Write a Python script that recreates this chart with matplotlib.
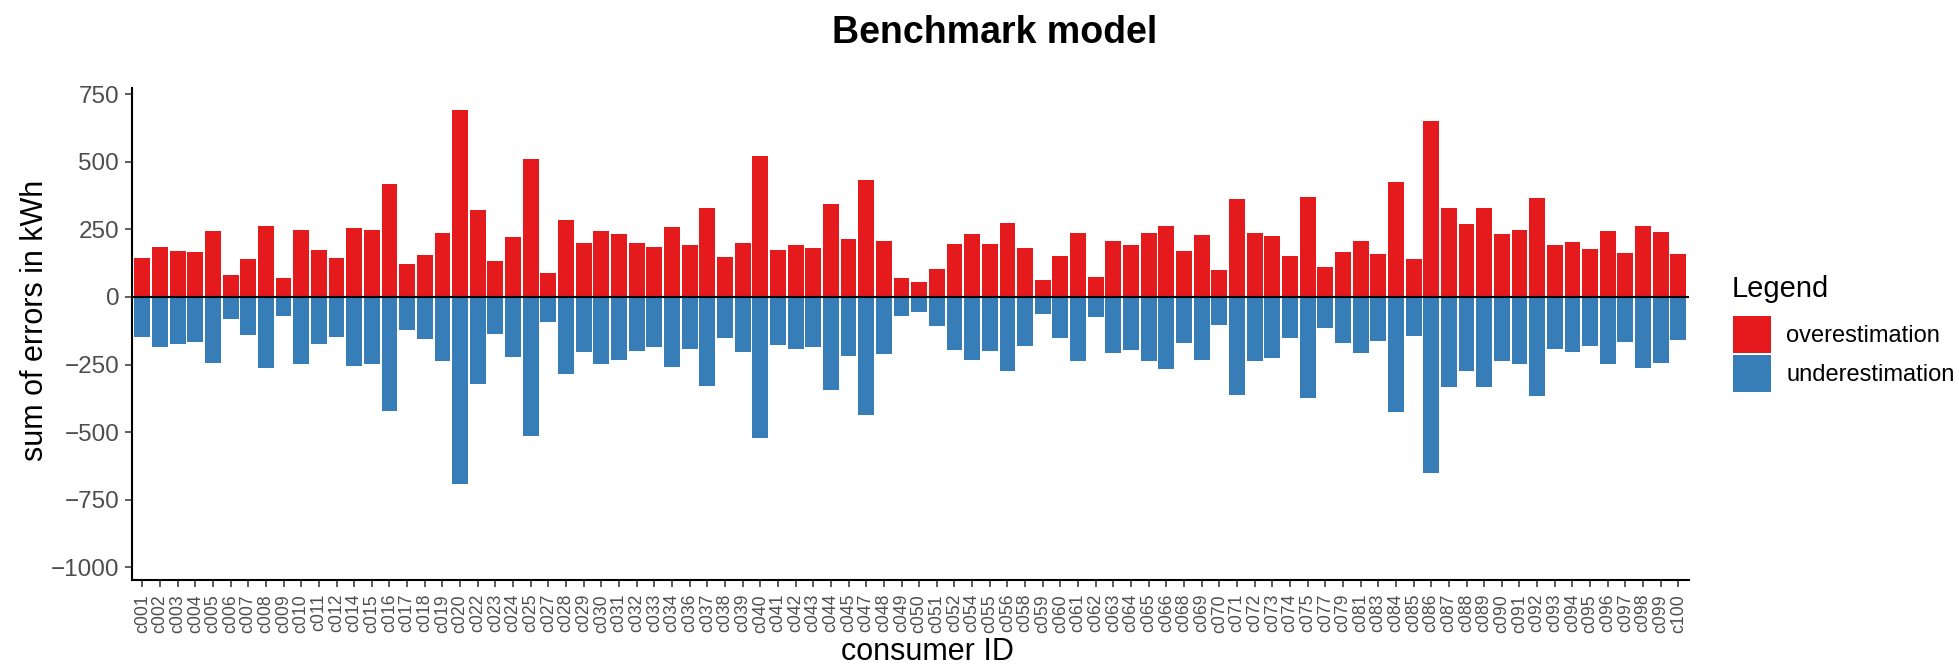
import matplotlib
matplotlib.use("Agg")
import matplotlib.pyplot as plt
from matplotlib.patches import Patch
import numpy as np

plt.rcParams["font.family"] = ["Liberation Sans", "DejaVu Sans"]

consumer_ids = [
    "c001", "c002", "c003", "c004", "c005", "c006", "c007", "c008", "c009", "c010",
    "c011", "c012", "c014", "c015", "c016", "c017", "c018", "c019", "c020", "c022",
    "c023", "c024", "c025", "c027", "c028", "c029", "c030", "c031", "c032", "c033",
    "c034", "c036", "c037", "c038", "c039", "c040", "c041", "c042", "c043", "c044",
    "c045", "c047", "c048", "c049", "c050", "c051", "c052", "c054", "c055", "c056",
    "c058", "c059", "c060", "c061", "c062", "c063", "c064", "c065", "c066", "c068",
    "c069", "c070", "c071", "c072", "c073", "c074", "c075", "c077", "c079", "c081",
    "c083", "c084", "c085", "c086", "c087", "c088", "c089", "c090", "c091", "c092",
    "c093", "c094", "c095", "c096", "c097", "c098", "c099", "c100",
]

# summed positive errors per consumer (kWh)
overestimation = [
    144, 185, 170, 166, 244, 81, 141, 263, 70, 248,
    174, 144, 255, 248, 418, 122, 155, 237, 692, 322,
    133, 222, 511, 89, 285, 200, 244, 233, 200, 185,
    259, 192, 329, 148, 200, 522, 174, 192, 181, 344,
    215, 433, 207, 70, 56, 104, 196, 233, 196, 274,
    181, 63, 152, 237, 74, 207, 192, 237, 263, 170,
    229, 100, 363, 237, 226, 152, 370, 111, 167, 207,
    159, 426, 141, 651, 329, 270, 329, 233, 248, 366,
    192, 204, 178, 244, 163, 263, 241, 159,
]

# summed negative errors per consumer (kWh, magnitude)
underestimation = [
    147, 185, 174, 166, 243, 80, 139, 261, 69, 247,
    173, 147, 254, 247, 421, 121, 154, 236, 691, 321,
    136, 221, 513, 91, 284, 202, 247, 232, 199, 184,
    258, 191, 328, 150, 202, 521, 178, 192, 185, 343,
    217, 435, 210, 69, 54, 106, 195, 232, 199, 273,
    180, 62, 150, 236, 73, 206, 195, 236, 265, 169,
    232, 102, 361, 236, 224, 150, 373, 113, 169, 206,
    162, 424, 143, 650, 332, 273, 332, 236, 247, 365,
    191, 202, 180, 247, 165, 261, 243, 158,
]

y_ticks = [-1000, -750, -500, -250, 0, 250, 500, 750]

RED = "#E41A1C"
BLUE = "#377EB8"
GREY = "#4D4D4D"

W, H = 1959, 664
fig = plt.figure(figsize=(W / 100, H / 100), dpi=100)
ax = fig.add_axes([131.7 / W, 1 - 580 / H, (1689 - 131.7) / W, (580 - 88.3) / H])

x = np.arange(len(consumer_ids))
ax.bar(x, overestimation, width=0.9, color=RED, linewidth=0)
ax.bar(x, -np.array(underestimation), width=0.9, color=BLUE, linewidth=0)
ax.axhline(0, color="black", linewidth=1.5, zorder=3)

ax.set_xlim(-0.6, len(consumer_ids) - 1 + 0.6)
ax.set_ylim(-1047, 772)
ax.set_xticks(x)
ax.set_xticklabels(consumer_ids, rotation=90, fontsize=12.7, color=GREY)
ax.set_yticks(y_ticks)
ax.set_yticklabels(["\u2212" + str(-v) if v < 0 else str(v) for v in y_ticks],
                   fontsize=17.5, color=GREY)

for side in ("top", "right"):
    ax.spines[side].set_visible(False)
for side in ("left", "bottom"):
    ax.spines[side].set_linewidth(1.5)
    ax.spines[side].set_color("black")
ax.tick_params(axis="both", color="#333333", width=1.1, length=5)
ax.tick_params(axis="y", pad=4)
ax.tick_params(axis="x", pad=5)

ax.set_xlabel("consumer ID", fontsize=22)
ax.xaxis.set_label_coords(0.511, -0.146)
ax.xaxis.label.set_verticalalignment("center")
ax.set_ylabel("sum of errors in kWh", fontsize=22)
ax.yaxis.set_label_coords(-0.0621, 0.529)
ax.yaxis.label.set_verticalalignment("center")

fig.text(994.5 / W, 1 - 42.7 / H, "Benchmark model", fontsize=27,
         fontweight="bold", ha="center", va="baseline")

# legend: title drawn separately so the gap above the keys can be set freely
fig.text(1731.7 / W, 1 - 296.7 / H, "Legend", fontsize=21,
         ha="left", va="baseline")
handles = [Patch(facecolor=RED, edgecolor="none", label="overestimation"),
           Patch(facecolor=BLUE, edgecolor="none", label="underestimation")]
fig.legend(handles=handles, loc="upper left",
           bbox_to_anchor=(1732.7 / W, 1 - 316 / H), frameon=False,
           fontsize=17, borderpad=0, borderaxespad=0,
           handlelength=1.61, handleheight=2.02, labelspacing=0.085,
           handletextpad=0.665)

fig.savefig("out.png", dpi=100)
